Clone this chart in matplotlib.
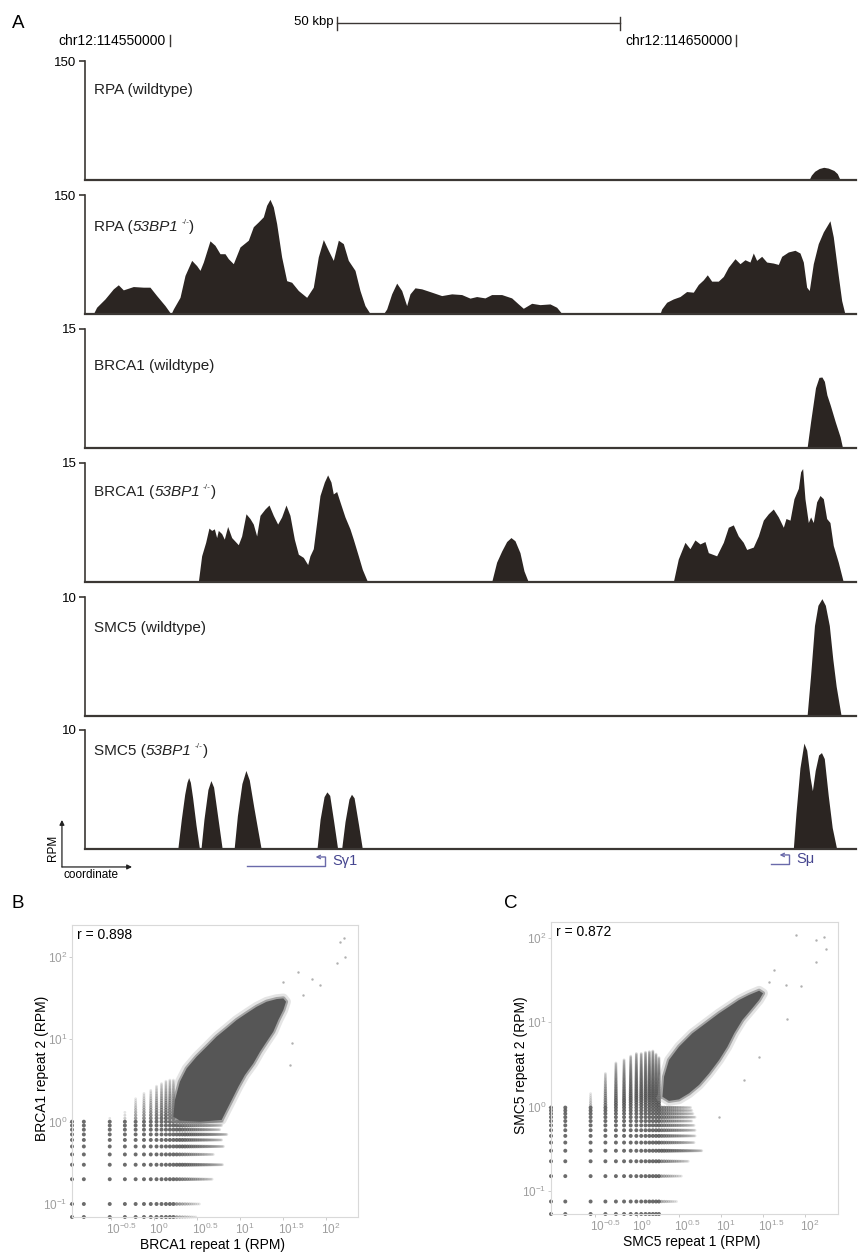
import matplotlib.pyplot as plt
import matplotlib.transforms as mtransforms
from matplotlib.ticker import NullLocator
import numpy as np

plt.rcParams['font.family'] = ['Liberation Sans', 'DejaVu Sans']
plt.rcParams['mathtext.fontset'] = 'custom'
plt.rcParams['mathtext.rm'] = 'Liberation Sans'
plt.rcParams['mathtext.it'] = 'Liberation Sans:italic'
plt.rcParams['mathtext.bf'] = 'Liberation Sans:bold'

W, H = 859, 1254
fig = plt.figure(figsize=(W / 100, H / 100), dpi=100)


def rect(left, top, right, bottom):
    return [left / W, 1 - bottom / H, (right - left) / W, (bottom - top) / H]


# ---- panel A data: (kb from chr12:114550000, RPM)
XMIN, XMAX = -15.0, 121.1

rpa_wt = [(112.8, 0), (113.2, 6), (113.8, 11), (114.6, 14.5), (115.4, 16),
          (116.2, 15), (117.2, 12), (117.8, 8), (118.3, 0)]

rpa_ko = [(-13.54, 0), (-12.95, 8.5), (-11.47, 19), (-10.0, 31.7), (-9.12, 36.8),
          (-8.24, 30.4), (-6.47, 34.6), (-4.71, 33.8), (-3.53, 33.8), (-2.35, 23.2),
          (-0.88, 10.6), (0.18, 0), (0.59, 6.3), (1.77, 21), (2.65, 48.6),
          (3.83, 67.6), (4.71, 61), (5.30, 55), (5.89, 65.5), (7.06, 92.2),
          (7.94, 86.6), (8.83, 76), (9.71, 76), (10.3, 69.7), (11.18, 63.4),
          (12.36, 84.5), (13.83, 93), (14.71, 110), (15.59, 116), (16.48, 122.5),
          (17.06, 137), (17.65, 144.5), (18.24, 135), (18.83, 114), (19.71, 72),
          (20.6, 42), (21.48, 40), (22.66, 29.6), (24.13, 21), (25.3, 33.8),
          (26.18, 72), (27.07, 93.8), (27.95, 80.3), (28.83, 67.6), (29.72, 93),
          (30.6, 88.7), (31.48, 67.6), (32.66, 55), (33.54, 29.6), (34.42, 10.6),
          (35.3, 0.8), (36.19, 0), (37.66, 0), (38.25, 6.3), (39.13, 25.4),
          (40.02, 38.9), (40.9, 29.6), (41.78, 10.6), (42.37, 25.4), (43.25, 33),
          (44.43, 31.7), (46.2, 27.5), (47.96, 23.2), (49.73, 25.4), (51.49, 24.5),
          (52.96, 20), (54.13, 22), (55.6, 20.3), (56.78, 24.5), (58.55, 24.5),
          (60.31, 20.3), (61.49, 12.7), (62.37, 7.2), (63.85, 13.5), (65.31, 11.8),
          (67.08, 12.7), (68.26, 8.5), (69.14, 0.8), (69.43, 0), (86.5, 0),
          (86.79, 6.3), (87.68, 14.8), (88.85, 19), (90.03, 22), (91.2, 28.3),
          (92.38, 27.5), (93.26, 37.2), (94.14, 43), (94.85, 49.4), (95.62, 41.4),
          (96.79, 41.4), (97.68, 47.3), (98.56, 59), (99.74, 69.7), (100.62, 63.4),
          (101.5, 68.4), (102.38, 65.5), (102.97, 76.9), (103.56, 67.6), (104.45, 72.7),
          (105.33, 65.5), (106.5, 64.2), (107.39, 62.5), (107.98, 72.7), (109.15, 78.2),
          (110.33, 80.3), (111.21, 76.9), (111.8, 65.5), (112.39, 33.8), (112.85, 29.6),
          (113.56, 63.4), (114.44, 88.7), (115.33, 103.5), (116.21, 114), (116.5, 117.5),
          (117.09, 97.2), (117.97, 48.6), (118.57, 16.9), (119.15, 0)]

brca1_wt = [(112.46, 0), (113.08, 3.3), (113.95, 7.6), (114.56, 8.9), (115.08, 8.95),
            (115.52, 8.4), (115.96, 6.7), (116.56, 5.4), (117.44, 3.3), (118.3, 1.4),
            (118.73, 0)]

brca1_ko = [(5.0, 0), (5.59, 3.3), (6.3, 5.0), (6.88, 6.8), (7.36, 6.5), (7.83, 6.7),
            (8.24, 5.6), (8.53, 6.5), (9.12, 6.1), (9.59, 5.4), (10.18, 7.0),
            (10.89, 5.6), (12.06, 4.7), (12.65, 5.8), (13.42, 8.6), (14.12, 8.0),
            (14.71, 7.3), (15.3, 5.8), (15.89, 8.4), (16.77, 9.2), (17.48, 9.7),
            (18.24, 8.4), (19.01, 7.3), (19.71, 8.2), (20.48, 9.7), (21.18, 8.4),
            (21.95, 5.4), (22.66, 3.5), (23.54, 3.1), (24.31, 2.2), (24.71, 3.3),
            (25.3, 4.2), (25.89, 7.5), (26.48, 10.9), (27.25, 12.6), (27.83, 13.5),
            (28.42, 12.6), (28.83, 11.1), (29.42, 11.4), (30.01, 10.1), (30.89, 8.2),
            (31.77, 6.7), (32.36, 5.4), (33.25, 3.3), (33.95, 1.6), (34.89, 0),
            (56.78, 0), (57.66, 2.5), (58.55, 3.9), (59.43, 5.1), (60.19, 5.6),
            (60.9, 5.2), (61.78, 3.7), (62.49, 1.4), (63.26, 0),
            (88.85, 0), (89.73, 2.9), (90.91, 5.0), (91.79, 4.2), (92.67, 5.3),
            (93.56, 4.8), (94.44, 5.1), (95.03, 3.7), (96.5, 3.3), (97.68, 5.0),
            (98.56, 6.9), (99.44, 7.2), (100.32, 5.8), (101.2, 5.0), (101.8, 4.1),
            (102.97, 4.4), (103.85, 5.8), (104.74, 7.8), (105.62, 8.6), (106.5, 9.2),
            (107.39, 8.2), (108.27, 6.9), (108.74, 8.0), (109.45, 7.8), (110.15, 10.5),
            (110.92, 11.8), (111.33, 13.9), (111.68, 14.3), (112.09, 10.5), (112.68, 7.5),
            (113.09, 8.2), (113.56, 7.5), (114.15, 10.1), (114.74, 10.9), (115.33, 10.5),
            (115.92, 8.0), (116.5, 7.5), (117.09, 4.6), (117.97, 2.5), (118.86, 0)]

smc5_wt = [(112.46, 0), (113.08, 3.4), (113.77, 7.6), (114.38, 9.3), (115.08, 9.86),
           (115.69, 9.3), (116.39, 7.6), (117.0, 4.8), (117.6, 2.5), (118.48, 0)]

smc5_ko = [(1.38, 0), (2.0, 2.5), (2.6, 4.6), (3.0, 5.6), (3.3, 6.0), (3.6, 5.6),
           (4.0, 4.3), (4.6, 2.0), (5.21, 0),
           (5.47, 0), (6.0, 2.5), (6.7, 5.0), (7.22, 5.75), (7.7, 5.2), (8.4, 2.8), (9.22, 0),
           (11.32, 0), (11.9, 2.8), (12.7, 5.5), (13.4, 6.6), (14.0, 5.8), (14.8, 3.5),
           (15.5, 1.6), (16.1, 0),
           (25.95, 0), (26.5, 2.5), (27.2, 4.4), (27.7, 4.8), (28.2, 4.5), (28.9, 2.3), (29.6, 0),
           (30.3, 0), (30.9, 2.3), (31.6, 4.2), (32.04, 4.6), (32.5, 4.3), (33.3, 2.0), (33.96, 0),
           (110.03, 0), (110.5, 3.0), (111.2, 6.8), (111.9, 8.9), (112.4, 8.3), (113.0, 6.0),
           (113.4, 4.9), (113.9, 6.6), (114.5, 7.9), (115.0, 8.1), (115.5, 7.6), (116.2, 4.5),
           (116.9, 1.8), (117.69, 0)]

# label parts: (prefix, italic genotype, superscript, suffix)
tracks = [
    (('RPA (wildtype)',), 150, rpa_wt, 29),
    (('RPA (', '53BP1', '-/-', ')'), 150, rpa_ko, 32),
    (('BRCA1 (wildtype)',), 15, brca1_wt, 37),
    (('BRCA1 (', '53BP1', '-/-', ')'), 15, brca1_ko, 29),
    (('SMC5 (wildtype)',), 10, smc5_wt, 31),
    (('SMC5 (', '53BP1', '-/-', ')'), 10, smc5_ko, 21),
]
baselines = [180, 314, 448, 582, 716, 849]

# genes: name, start kb, end kb (TSS at end, minus strand)
genes = [('S\u03b31', 13.6, 27.4), ('S\u03bc', 106.1, 109.3)]
scale_start, scale_len = 29.4, 50

FILL = '#2b2522'
AXIS = '#3b3734'
GENE = '#6a6aaa'

axes = []
for (label, ymax, data, off), base in zip(tracks, baselines):
    ax = fig.add_axes(rect(85, base - 119, 856, base))
    pos = [p for p, v in data]
    val = [v for p, v in data]
    ax.fill_between(pos, val, 0, color=FILL, lw=0)
    ax.set_xlim(XMIN, XMAX)
    ax.set_ylim(0, ymax)
    ax.spines['top'].set_visible(False)
    ax.spines['right'].set_visible(False)
    ax.spines['left'].set(color=AXIS, lw=1.2)
    ax.spines['bottom'].set(color=AXIS, lw=1.6)
    ax.set_xticks([])
    ax.set_yticks([ymax])
    ax.set_yticklabels([str(ymax)])
    ax.tick_params(axis='y', length=4.5, width=1.2, color=AXIS, pad=1.5, labelsize=9.5)
    t1 = ax.text(0.012, 1 - off / 119, label[0], transform=ax.transAxes, fontsize=11,
                 va='center', ha='left', color='#222222')
    if len(label) > 1:
        t2 = ax.annotate(label[1], xy=(1, 0), xycoords=t1, va='bottom', ha='left',
                         fontsize=11, style='italic', color='#222222')
        t3 = ax.annotate(label[2], xy=(1, 0.6), xycoords=t2, xytext=(2, 0),
                         textcoords='offset points', va='bottom', ha='left',
                         fontsize=6, color='#444444')
        ax.annotate(label[3], xy=(1, 0), xycoords=(t3, t2), va='bottom', ha='left',
                    fontsize=11, color='#222222')
    axes.append(ax)

# header: coordinates and scale bar
top = axes[0]
tr = mtransforms.blended_transform_factory(top.transData, top.transAxes)
for x, lab in [(0, 'chr12:114550000'), (100, 'chr12:114650000')]:
    top.plot([x, x], [1.126, 1.218], transform=tr, color=AXIS, lw=1, clip_on=False)
    top.annotate(lab, xy=(x, 1.168), xycoords=tr, xytext=(-3, 0),
                 textcoords='offset points', ha='right', va='center', fontsize=10)
top.plot([scale_start, scale_start + scale_len], [1.319, 1.319], transform=tr,
         color=AXIS, lw=1, clip_on=False)
for x in [scale_start, scale_start + scale_len]:
    top.plot([x, x], [1.261, 1.370], transform=tr, color=AXIS, lw=1, clip_on=False)
top.annotate('50 kbp', xy=(scale_start, 1.328), xycoords=tr, xytext=(-2, 0),
             textcoords='offset points', ha='right', va='center', fontsize=9.5)

# genes under the last track
last = axes[-1]
tr6 = mtransforms.blended_transform_factory(last.transData, last.transAxes)
for (name, g0, g1), (ylo, yhi) in zip(genes, [(-0.143, -0.067), (-0.126, -0.050)]):
    last.plot([g0, g1, g1], [ylo, ylo, yhi], transform=tr6, color=GENE, lw=1,
              clip_on=False)
    last.annotate('', xy=(g1 - 1.7, yhi), xytext=(g1, yhi), xycoords=tr6,
                  arrowprops=dict(arrowstyle='->', color=GENE, lw=1,
                                  shrinkA=0, shrinkB=0, mutation_scale=6))
    last.annotate(name, xy=(g1, (ylo + yhi) / 2), xycoords=tr6, xytext=(5, 0),
                  textcoords='offset points', ha='left', va='center',
                  fontsize=10.5, color='#45458f')

# RPM / coordinate key
last.annotate('', xy=(-0.0299, 0.244), xytext=(-0.0299, -0.151), xycoords='axes fraction',
              arrowprops=dict(arrowstyle='-|>', color='#222222', lw=0.9,
                              shrinkA=0, shrinkB=0, mutation_scale=7))
last.annotate('', xy=(0.061, -0.151), xytext=(-0.0299, -0.151), xycoords='axes fraction',
              arrowprops=dict(arrowstyle='-|>', color='#222222', lw=0.9,
                              shrinkA=0, shrinkB=0, mutation_scale=7))
last.text(-0.0415, 0.01, 'RPM', transform=last.transAxes, rotation=90,
          ha='center', va='center', fontsize=8.5)
last.text(-0.0285, -0.218, 'coordinate', transform=last.transAxes,
          ha='left', va='center', fontsize=8.5)

fig.text(18.7 / W, 1 - 23 / H, 'A', fontsize=13.5, ha='center', va='center')
fig.text(17.5 / W, 1 - 903 / H, 'B', fontsize=13.5, ha='center', va='center')
fig.text(511 / W, 1 - 903 / H, 'C', fontsize=13.5, ha='center', va='center')

# ---- panels B and C: replicate scatter
# lattice of low counts: (count, max extent) for rows (y) and columns (x)
b_step = (0.153, 0.1)
b_rows = [(0, 3.1), (1, 3.4), (2, 4.7), (3, 6.3), (4, 4.9), (5, 6.5), (6, 6.1),
          (7, 7.0), (8, 5.8), (9, 6.1), (10, 6.3)]
b_cols = [(0, 0.4), (1, 0.6), (2, 1.1), (3, 1.3), (4, 1.9), (5, 2.2), (6, 2.4),
          (7, 2.7), (8, 2.9), (9, 3.1), (10, 3.2), (11, 3.2)]
b_cloud = [(1.68, 1.15), (1.75, 1.83), (2.0, 3.06), (2.4, 4.44), (3.13, 6.16),
           (4.1, 8.15), (5.35, 10.8), (7.0, 13.6), (9.15, 17.2), (11.9, 20.7),
           (15.6, 24.9), (20.4, 28.7), (26.7, 30.9), (31.9, 31.5), (34.3, 28.7),
           (31.9, 22.7), (27.9, 17.2), (24.4, 12.4), (20.4, 9.37), (17.1, 7.08),
           (14.3, 5.11), (11.4, 3.69), (9.57, 2.66), (8.0, 1.83), (7.0, 1.39),
           (6.12, 1.05), (3.43, 1.0), (2.0, 1.03)]
b_out = [(145.5, 153.6), (162, 168.6), (166, 99), (133, 83.8), (47.7, 66.4),
         (68, 53.5), (31.9, 50.1), (85.1, 45.7), (54.5, 34.5), (39.8, 8.94), (38.1, 4.88)]

c_step = (0.139, 0.075)
c_rows = [(0, 1.8), (1, 2.86), (2, 3.4), (3, 4.1), (4, 5.9), (5, 4.7), (6, 4.9),
          (7, 4.9), (8, 4.7), (9, 4.5), (10, 4.9), (11, 4.6), (12, 4.4), (13, 4.3)]
c_cols = [(0, 0.45), (1, 0.6), (2, 1.4), (3, 2.5), (4, 3.3), (5, 3.6), (6, 4.0),
          (7, 4.3), (8, 4.3), (9, 4.4), (10, 4.5), (11, 4.6), (12, 4.2), (13, 3.8)]
c_cloud = [(1.99, 1.31), (2.08, 2.27), (2.38, 3.57), (3.13, 5.14), (4.52, 7.41),
           (6.5, 9.73), (9.38, 12.8), (12.3, 15.3), (16.2, 18.4), (21.3, 21.1),
           (28.1, 23.7), (31.3, 22.1), (28.1, 18.4), (22.4, 14.0), (17.8, 10.7),
           (14.2, 7.41), (11.8, 5.14), (9.38, 3.57), (7.13, 2.48), (5.42, 1.81),
           (4.12, 1.44), (3.13, 1.22), (2.38, 1.17)]
c_out = [(76.7, 108.6), (132.7, 94.7), (166.7, 101.8), (174.6, 73.4), (132.7, 52.4),
         (42.4, 41.8), (36.9, 30.3), (58.3, 27.7), (88, 27.0), (61.1, 11.1),
         (28.1, 3.92), (18.6, 2.07), (9.38, 0.76)]

x_exps = [-0.5, 0, 0.5, 1, 1.5, 2]
y_exps = [-1, 0, 1, 2]


def fade(k, n):
    # darker near the origin, fading towards the end of a row/column (log position)
    f = np.log1p(k) / np.log1p(n)
    return 0.85 if f < 0.72 else 0.85 - (f - 0.72) / 0.28 * 0.7


def scatter_panel(box, xlim, ylim, step, rows, cols, cloud, out, r_text, xlab, ylab):
    ax = fig.add_axes(rect(*box))
    ax.set_xscale('log')
    ax.set_yscale('log')
    x0, x1 = 10 ** xlim[0], 10 ** xlim[1]
    y0, y1 = 10 ** ylim[0], 10 ** ylim[1]
    ax.set_xlim(x0, x1)
    ax.set_ylim(y0, y1)

    pts = {}
    for j, xmax in rows:
        n = int(round(xmax / step[0]))
        for i in range(n + 1):
            pts[(i, j)] = max(pts.get((i, j), 0), fade(i, n))
    for i, ymax in cols:
        n = int(round(ymax / step[1]))
        for j in range(n + 1):
            pts[(i, j)] = max(pts.get((i, j), 0), fade(j, n))
    xs = [x0 if i == 0 else i * step[0] for i, j in pts]
    ys = [y0 if j == 0 else j * step[1] for i, j in pts]
    al = list(pts.values())
    cs = [(0.32, 0.32, 0.32, a) for a in al]
    ss = [3 + 6 * a for a in al]
    ax.scatter(xs, ys, s=ss, c=cs, lw=0, clip_on=False, zorder=2)

    cx = [p[0] for p in cloud] + [cloud[0][0]]
    cy = [p[1] for p in cloud] + [cloud[0][1]]
    ax.plot(cx, cy, color='#a8a8a8', lw=7, alpha=0.3, zorder=2.4)
    ax.plot(cx, cy, color='#7a7a7a', lw=3, alpha=0.6, zorder=2.5)
    ax.fill(cx, cy, color='#565656', lw=0, zorder=3)
    ax.scatter([p[0] for p in out], [p[1] for p in out], s=3, color='#b0b0b0',
               lw=0, zorder=3)

    ax.set_xticks([10 ** e for e in x_exps])
    ax.set_xticklabels([r'$10^{%g}$' % e for e in x_exps])
    ax.set_yticks([10 ** e for e in y_exps])
    ax.set_yticklabels([r'$10^{%g}$' % e for e in y_exps])
    ax.xaxis.set_minor_locator(NullLocator())
    ax.yaxis.set_minor_locator(NullLocator())
    ax.tick_params(labelsize=8.5, labelcolor='#9e9e9e', color='#c4c4c4',
                   length=2, width=0.6, pad=1.5)
    shift = mtransforms.ScaledTranslation(-5 / 100, 0, fig.dpi_scale_trans)
    for lab in ax.get_xticklabels():
        lab.set_ha('left')
        lab.set_transform(lab.get_transform() + shift)
    for s in ax.spines.values():
        s.set(color='#d9d9d9', lw=0.8)
    ax.text(0.018, 0.965, r_text, transform=ax.transAxes, fontsize=10,
            ha='left', va='center')
    ax.text(0.49, -0.097, xlab, transform=ax.transAxes, fontsize=10,
            ha='center', va='center')
    ax.text(-0.105, 0.51, ylab, transform=ax.transAxes, fontsize=10, rotation=90,
            ha='center', va='center')
    return ax


scatter_panel((72, 925, 358, 1217), (-0.953, 2.372), (-1.158, 2.39), b_step,
              b_rows, b_cols, b_cloud, b_out, 'r = 0.898',
              'BRCA1 repeat 1 (RPM)', 'BRCA1 repeat 2 (RPM)')
scatter_panel((551, 922, 838, 1214), (-1.027, 2.387), (-1.273, 2.19), c_step,
              c_rows, c_cols, c_cloud, c_out, 'r = 0.872',
              'SMC5 repeat 1 (RPM)', 'SMC5 repeat 2 (RPM)')

fig.savefig('out.png', dpi=100)
